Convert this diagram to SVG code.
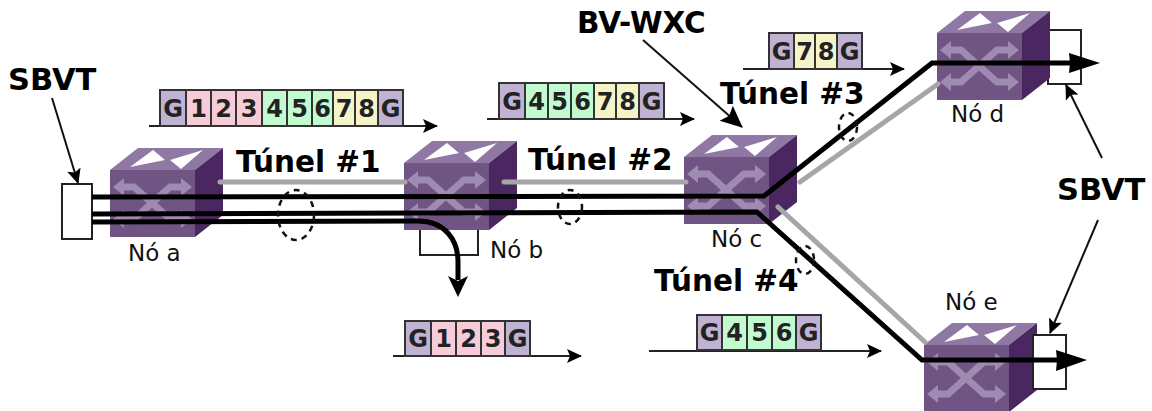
<svg xmlns="http://www.w3.org/2000/svg" xmlns:xlink="http://www.w3.org/1999/xlink" width="1152" height="411" viewBox="0 0 1152 411">
<style>
text{font-family:"DejaVu Sans",sans-serif;fill:#000}
.t{font-size:29.5px;font-weight:bold}
.s{font-size:30.500px;font-weight:bold}
.n{font-size:23px;fill:#111}
.c{font-size:24px;font-weight:bold;text-anchor:middle;fill:#222}
.cell{stroke:#333;stroke-width:2}
.g{fill:#c0b2d2}.r{fill:#f5ccd8}.v{fill:#c2fbd0}.y{fill:#f5f4c8}
.box{fill:#fff;stroke:#222;stroke-width:2}
.thick{fill:none;stroke:#000;stroke-width:5}
.gray{fill:none;stroke:#a6a6a6;stroke-width:5;stroke-linecap:round}
.flow{fill:none;stroke:#222;stroke-width:2;marker-end:url(#thin)}
.point{fill:none;stroke:#111;stroke-width:2;marker-end:url(#thin)}
.dash{fill:none;stroke:#111;stroke-width:2.5;stroke-dasharray:6 5}
.ar{fill:none;stroke:#9f8ab1;stroke-width:7}
</style>
<defs>
<marker id="thin" markerUnits="userSpaceOnUse" markerWidth="16" markerHeight="16" refX="14" refY="8" orient="auto"><path d="M0,1 L15,8 L0,15 L3,8Z" fill="#000"/></marker>
<marker id="big" markerUnits="userSpaceOnUse" markerWidth="24" markerHeight="24" refX="21" refY="12" orient="auto"><path d="M0,2 L22,12 L0,22 L4,12Z" fill="#000"/></marker>
<g id="cube">
<path d="M0,0 L85,0 L85,67 L0,67Z" fill="#6f5484"/>
<path d="M0,0 L28,-22 L113,-22 L85,0Z" fill="#8f78a3"/>
<path d="M85,0 L113,-22 L113,45 L85,67Z" fill="#4a2760"/>
<path d="M20,-3 L43,-20 L55,-10Z M60,-10 L93,-20 L71,-1Z" fill="#fff"/>
<path class="ar" d="M12,17 L24,17 L60,49 L74,49 M12,49 L24,49 L60,17 L74,17"/>
<path d="M3,17 L14,8 L14,26Z M82,49 L71,40 L71,58Z M3,49 L14,40 L14,58Z M82,17 L71,8 L71,26Z" fill="#9f8ab1"/>
</g>
</defs>
<rect width="1152" height="411" fill="#fff"/>

<g id="sbvt-a"><rect class="box" x="62" y="184" width="30" height="55"/></g>
<g id="sbvt-d"><rect class="box" x="1048" y="30" width="33" height="54"/></g>
<g id="drop-b"><rect class="box" x="420" y="215" width="58" height="40"/></g>

<g id="no-a"><use href="#cube" x="110" y="170"/><text class="n" x="128" y="261">Nó a</text></g>
<g id="no-b"><use href="#cube" x="404" y="163"/><text class="n" x="490" y="258">Nó b</text></g>
<g id="no-c"><use href="#cube" x="684" y="157"/><text class="n" x="711" y="247">Nó c</text></g>
<g id="no-d"><use href="#cube" x="937" y="33"/><text class="n" x="951" y="122">Nó d</text></g>
<g id="no-e"><use href="#cube" x="924" y="345"/><text class="n" x="945" y="310">Nó e</text></g>
<g id="sbvt-e"><rect class="box" x="1033" y="335" width="33" height="54"/></g>

<g id="connectors">
<path class="gray" d="M220,182 L405,182"/>
<path class="gray" d="M504,182 L686,182"/>
<path class="gray" d="M800,182 L938,84"/>
<path class="gray" d="M778,207 L925,342"/>
<path class="thick" d="M92,197 L764,196 L932,63 L1072,63"/>
<path d="M1069,53 L1100,63 L1069,73 L1070,63Z" fill="#000"/>
<path class="thick" d="M92,214 L757,212 L922,360 L1058,360"/>
<path d="M1056,350 L1087,360 L1056,371 L1057,360Z" fill="#000"/>
<path class="thick" d="M92,222 L418,221 C445,221 458,240 458,262 L458,280"/>
<path d="M448,276 L458,281 L468,276 L458,297Z" fill="#000"/>
<path class="point" d="M52,98 L78,183"/>
<path class="point" style="marker-end:url(#big)" d="M643,40 L742,127"/>
<path class="point" d="M1102,158 L1066,85"/>
<path class="point" d="M1098,220 L1050,333"/>
<path class="flow" d="M149,126 L437,126"/>
<path class="flow" d="M487,119 L694,119"/>
<path class="flow" d="M743,69 L904,69"/>
<path class="flow" d="M393,356 L581,356"/>
<path class="flow" d="M649,351 L881,351"/>
<ellipse class="dash" cx="296" cy="215" rx="18" ry="25"/>
<ellipse class="dash" cx="570" cy="207" rx="12" ry="17"/>
<ellipse class="dash" cx="848" cy="127" rx="9" ry="14"/>
<ellipse class="dash" cx="805" cy="260" rx="9" ry="14"/>
</g>

<g id="pacote-1">
<rect class="cell g" x="160" y="90" width="26" height="36"/><rect class="cell r" x="186" y="90" width="25" height="36"/><rect class="cell r" x="211" y="90" width="25" height="36"/><rect class="cell r" x="236" y="90" width="26" height="36"/><rect class="cell v" x="262" y="90" width="25" height="36"/><rect class="cell v" x="287" y="90" width="25" height="36"/><rect class="cell v" x="312" y="90" width="21" height="36"/><rect class="cell y" x="333" y="90" width="22" height="36"/><rect class="cell y" x="355" y="90" width="23" height="36"/><rect class="cell g" x="378" y="90" width="25" height="36"/>
<text class="c" x="173" y="117">G</text><text class="c" x="198.500" y="117">1</text><text class="c" x="223.500" y="117">2</text><text class="c" x="249" y="117">3</text><text class="c" x="274.500" y="117">4</text><text class="c" x="299.500" y="117">5</text><text class="c" x="322.500" y="117">6</text><text class="c" x="344" y="117">7</text><text class="c" x="366.500" y="117">8</text><text class="c" x="390.500" y="117">G</text>
</g>
<g id="pacote-2">
<rect class="cell g" x="499" y="83" width="26" height="36"/><rect class="cell v" x="525" y="83" width="23" height="36"/><rect class="cell v" x="548" y="83" width="23" height="36"/><rect class="cell v" x="571" y="83" width="23" height="36"/><rect class="cell y" x="594" y="83" width="22" height="36"/><rect class="cell y" x="616" y="83" width="23" height="36"/><rect class="cell g" x="639" y="83" width="25" height="36"/>
<text class="c" x="512" y="110">G</text><text class="c" x="536.500" y="110">4</text><text class="c" x="559.500" y="110">5</text><text class="c" x="582.500" y="110">6</text><text class="c" x="605" y="110">7</text><text class="c" x="627.500" y="110">8</text><text class="c" x="651.500" y="110">G</text>
</g>
<g id="pacote-3">
<rect class="cell g" x="769" y="33" width="25" height="36"/><rect class="cell y" x="794" y="33" width="21" height="36"/><rect class="cell y" x="815" y="33" width="22" height="36"/><rect class="cell g" x="837" y="33" width="25" height="36"/>
<text class="c" x="781.500" y="60">G</text><text class="c" x="804.500" y="60">7</text><text class="c" x="826" y="60">8</text><text class="c" x="849.500" y="60">G</text>
</g>
<g id="pacote-4">
<rect class="cell g" x="405" y="321" width="26" height="35"/><rect class="cell r" x="431" y="321" width="25" height="35"/><rect class="cell r" x="456" y="321" width="25" height="35"/><rect class="cell r" x="481" y="321" width="24" height="35"/><rect class="cell g" x="505" y="321" width="25" height="35"/>
<text class="c" x="418" y="347">G</text><text class="c" x="443.500" y="347">1</text><text class="c" x="468.500" y="347">2</text><text class="c" x="493" y="347">3</text><text class="c" x="517.500" y="347">G</text>
</g>
<g id="pacote-5">
<rect class="cell g" x="697" y="315" width="25" height="35"/><rect class="cell v" x="722" y="315" width="25" height="35"/><rect class="cell v" x="747" y="315" width="25" height="35"/><rect class="cell v" x="772" y="315" width="24" height="35"/><rect class="cell g" x="796" y="315" width="25" height="35"/>
<text class="c" x="709.500" y="341">G</text><text class="c" x="734.500" y="341">4</text><text class="c" x="759.500" y="341">5</text><text class="c" x="784" y="341">6</text><text class="c" x="808.500" y="341">G</text>
</g>

<g id="rotulos">
<text class="s" x="8" y="90">SBVT</text>
<text class="s" x="1057" y="200">SBVT</text>
<text class="t" x="577" y="33">BV-WXC</text>
<text class="t" x="236" y="172">Túnel #1</text>
<text class="t" x="528" y="170">Túnel #2</text>
<text class="t" x="720" y="104">Túnel #3</text>
<text class="t" x="654" y="291">Túnel #4</text>
</g>
</svg>
